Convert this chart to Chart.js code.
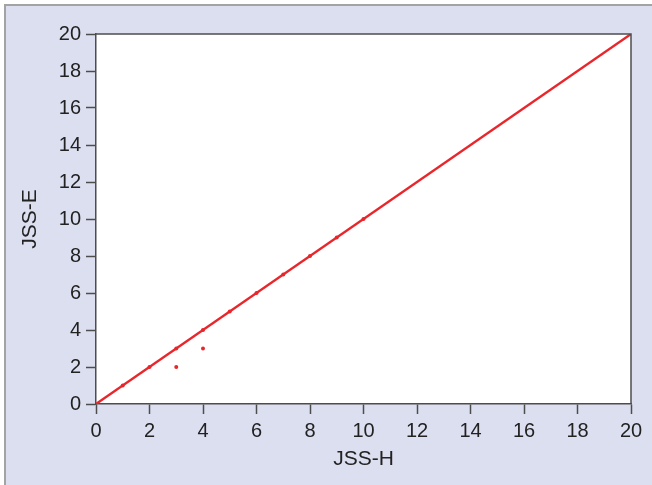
<!DOCTYPE html>
<html>
<head>
<meta charset="utf-8">
<script src="https://cdn.jsdelivr.net/npm/chart.js@4/dist/chart.umd.min.js"></script>
<style>
  html, body { margin: 0; padding: 0; background: #ffffff; }
  #wrap { width: 652px; height: 485px; }
</style>
</head>
<body>
<div id="wrap"><canvas id="c" width="652" height="485"></canvas></div>
<script>
// Paired scores: JSS-H (x) against JSS-E (y)
const jssH = [1, 2, 3, 3, 4, 4, 5, 6, 7, 8, 9, 10];
const jssE = [1, 2, 3, 2, 4, 3, 5, 6, 7, 8, 9, 10];

// Line of identity
const lineX = [0, 20];
const lineY = [0, 20];

// Axis ticks
const tickValues = [0, 2, 4, 6, 8, 10, 12, 14, 16, 18, 20];

const RED = '#e8262b';
const AXIS = '#4d4d4d';
const TEXT = '#222222';
const FONT = "'Liberation Sans', Arial, sans-serif";

const panel = {
  id: 'panel',
  beforeDraw(chart) {
    const { ctx, width, height, chartArea: a } = chart;
    ctx.save();
    ctx.fillStyle = '#ffffff';
    ctx.fillRect(0, 0, width, height);
    ctx.fillStyle = '#dcdff0';
    ctx.fillRect(5, 5, width - 5, height - 5);
    ctx.strokeStyle = '#a3a3a3';
    ctx.lineWidth = 2;
    ctx.beginPath();
    ctx.moveTo(5, height);
    ctx.lineTo(5, 5);
    ctx.lineTo(width, 5);
    ctx.stroke();
    ctx.fillStyle = '#ffffff';
    ctx.fillRect(a.left, a.top, a.right - a.left, a.bottom - a.top);
    ctx.restore();
  },
  afterDatasetsDraw(chart) {
    const { ctx, chartArea: a } = chart;
    ctx.save();
    ctx.strokeStyle = AXIS;
    ctx.lineWidth = 1.5;
    ctx.beginPath();
    ctx.moveTo(a.left, a.top);
    ctx.lineTo(a.right, a.top);
    ctx.lineTo(a.right, a.bottom);
    ctx.stroke();
    ctx.restore();
  }
};

const scaleCommon = (title, pad) => ({
  type: 'linear',
  min: 0,
  max: 20,
  afterBuildTicks(scale) { scale.ticks = tickValues.map(v => ({ value: v })); },
  grid: {
    display: true,
    drawOnChartArea: false,
    drawTicks: true,
    tickLength: 10,
    tickWidth: 1.5,
    tickColor: AXIS,
    color: AXIS
  },
  border: { display: true, color: AXIS, width: 1.5 },
  ticks: {
    color: TEXT,
    font: { family: FONT, size: 20 },
    padding: 5,
    maxRotation: 0,
    autoSkip: false
  },
  title: {
    display: true,
    text: title,
    color: TEXT,
    font: { family: FONT, size: 21 },
    padding: pad
  }
});

const xScale = scaleCommon('JSS-H', { top: 0, bottom: 13 });
xScale.afterFit = s => { s.height = 81; };
const yScale = scaleCommon('JSS-E', { top: 18, bottom: 0 });
yScale.afterFit = s => { s.width = 96; };

new Chart(document.getElementById('c'), {
  data: {
    datasets: [
      {
        type: 'line',
        data: lineX.map((x, i) => ({ x, y: lineY[i] })),
        borderColor: RED,
        borderWidth: 2.3,
        pointRadius: 0,
        fill: false,
        tension: 0
      },
      {
        type: 'scatter',
        data: jssH.map((x, i) => ({ x, y: jssE[i] })),
        backgroundColor: RED,
        borderColor: RED,
        borderWidth: 0,
        pointRadius: 2
      }
    ]
  },
  options: {
    responsive: false,
    animation: false,
    layout: { padding: { top: 34, right: 21, left: 0, bottom: 0 } },
    plugins: { legend: { display: false }, tooltip: { enabled: false } },
    scales: { x: xScale, y: yScale }
  },
  plugins: [panel]
});
</script>
</body>
</html>
